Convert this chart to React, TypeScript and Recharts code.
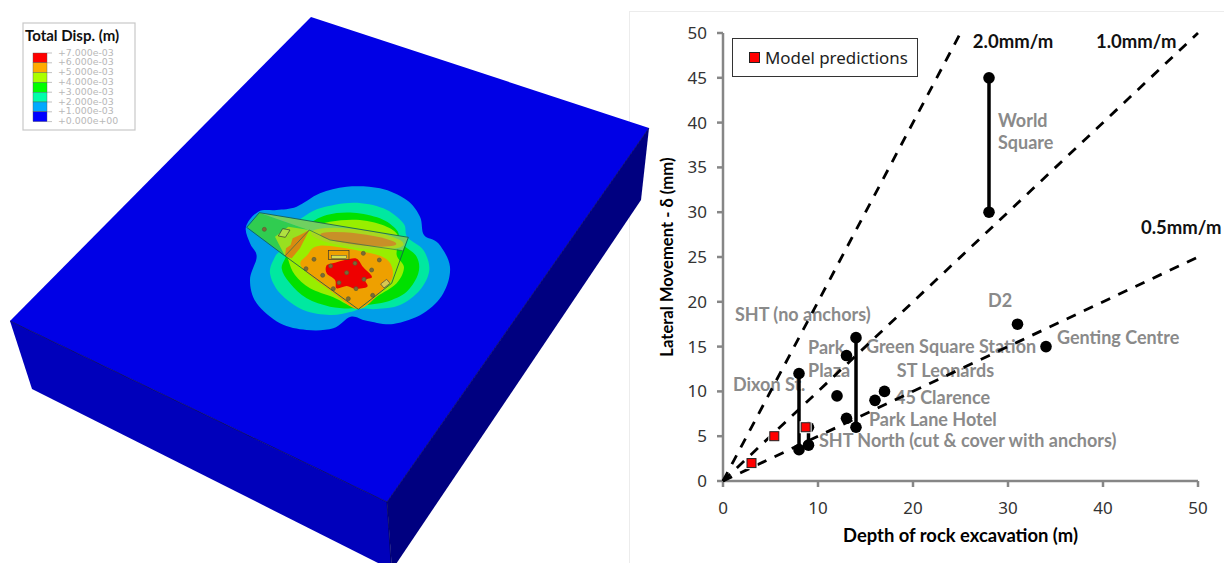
import { Legend, Scatter, ScatterChart, XAxis, YAxis } from "recharts";

// chart values
const xTicks = [0, 10, 20, 30, 40, 50];
const yTicks = [0, 5, 10, 15, 20, 25, 30, 35, 40, 45, 50];
const guide20 = [{ x: 0, y: 0 }, { x: 25, y: 50 }];
const guide10 = [{ x: 0, y: 0 }, { x: 50, y: 50 }];
const guide05 = [{ x: 0, y: 0 }, { x: 50, y: 25 }];
const worldSquare = [{ x: 28, y: 30 }, { x: 28, y: 45 }];
const dixonSt = [{ x: 8, y: 3.5 }, { x: 8, y: 12 }];
const greenSquare = [{ x: 14, y: 6 }, { x: 14, y: 16 }];
const shtNorth = [{ x: 9, y: 4 }, { x: 9, y: 6 }];
const singleSites = [
  { x: 13, y: 14 },
  { x: 13, y: 7 },
  { x: 12, y: 9.5 },
  { x: 16, y: 9 },
  { x: 17, y: 10 },
  { x: 31, y: 17.5 },
  { x: 34, y: 15 },
];
const modelPredictions = [
  { x: 3, y: 2 },
  { x: 5.4, y: 5 },
  { x: 8.7, y: 6 },
];
const siteLabels = [
  { x: 1.26, y: 17.97, text: "SHT (no anchors)" },
  { x: 8.95, y: 14.29, text: "Park" },
  { x: 8.95, y: 11.72, text: "Plaza" },
  { x: 1.05, y: 10.16, text: "Dixon St." },
  { x: 15.05, y: 14.4, text: "Green Square Station" },
  { x: 18.3, y: 11.72, text: "ST Leonards" },
  { x: 18.1, y: 8.71, text: "45 Clarence" },
  { x: 15.37, y: 6.25, text: "Park Lane Hotel" },
  { x: 10.1, y: 3.91, text: "SHT North (cut & cover with anchors)" },
  { x: 27.9, y: 19.53, text: "D2" },
  { x: 35.16, y: 15.4, text: "Genting Centre" },
  { x: 28.95, y: 39.62, text: "World" },
  { x: 28.95, y: 37.17, text: "Square" },
];
const guideLabels = [
  { x: 26.3, y: 48.44, text: "2.0mm/m" },
  { x: 39.26, y: 48.44, text: "1.0mm/m" },
  { x: 44, y: 27.68, text: "0.5mm/m" },
];

// contour legend of the FE picture
const contourColors = ["#ff0000", "#ffaa00", "#aaff00", "#00ff00", "#00ffaa", "#00aaff", "#0000ff"];
const contourTicks = ["+7.000e-03", "+6.000e-03", "+5.000e-03", "+4.000e-03", "+3.000e-03", "+2.000e-03", "+1.000e-03", "+0.000e+00"];

// FE contour outlines, traced by hand
type Pt = [number, number];
const azureBand: Pt[] = [[230, 80], [300, 40], [380, 20], [480, 25], [560, 60], [600, 110], [612, 165], [655, 190], [690, 260], [670, 340], [610, 400], [520, 432], [440, 422], [392, 410], [340, 445], [260, 450], [180, 430], [110, 370], [90, 300], [110, 230], [90, 190], [78, 140], [115, 95], [170, 90]];
const springBand: Pt[] = [[240, 118], [300, 85], [400, 68], [490, 85], [550, 130], [562, 172], [610, 210], [628, 270], [600, 330], [540, 375], [470, 387], [425, 386], [390, 396], [330, 405], [250, 390], [180, 340], [150, 280], [165, 230], [185, 205], [170, 170]];
const greenBand: Pt[] = [[250, 140], [320, 105], [400, 98], [480, 115], [530, 150], [545, 190], [590, 230], [595, 280], [560, 335], [500, 365], [440, 375], [400, 385], [330, 380], [260, 355], [210, 310], [185, 265], [200, 220], [180, 180]];
const limeBand: Pt[] = [[330, 125], [420, 120], [500, 140], [535, 170], [530, 225], [552, 262], [530, 310], [470, 350], [415, 385], [340, 352], [270, 325], [225, 285], [205, 240], [190, 180], [250, 150]];
const orangeFloor: Pt[] = [[262, 225], [300, 197], [420, 213], [500, 238], [518, 290], [480, 338], [415, 387], [340, 338], [245, 262]];
const redCore: Pt[] = [[320, 256], [345, 248], [375, 240], [410, 236], [430, 262], [456, 290], [436, 300], [442, 320], [405, 326], [380, 318], [350, 325], [345, 300], [320, 280]];
const columnDots: Pt[] = [[133, 148], [282, 238], [258, 266], [332, 258], [308, 286], [380, 278], [430, 220], [478, 240], [455, 270], [432, 298], [408, 326], [340, 326], [385, 356], [458, 346], [357, 308], [405, 250]];

function smoothPath(pts: Pt[]) {
  const n = pts.length;
  let d = `M${pts[0][0]},${pts[0][1]}`;
  for (let i = 0; i < n; i++) {
    const [p0, p1, p2, p3] = [pts[(i - 1 + n) % n], pts[i], pts[(i + 1) % n], pts[(i + 2) % n]];
    d += `C${p1[0] + (p2[0] - p0[0]) / 6},${p1[1] + (p2[1] - p0[1]) / 6} ${p2[0] - (p3[0] - p1[0]) / 6},${p2[1] - (p3[1] - p1[1]) / 6} ${p2[0]},${p2[1]}`;
  }
  return d + "Z";
}

function ModelPicture() {
  return (
    <svg width={655} height={563} style={{ position: "absolute", left: 0, top: 0 }}>
      <polygon points="10,321 387,502 392,570 32,389" fill="#0000bb" />
      <polygon points="649,128 387,502 392,570 641,200" fill="#000080" />
      <polygon points="311,17 649,128 387,502 10,321" fill="#0000e6" />
      <polyline points="10,321 387,502 649,128" fill="none" stroke="#00005a" strokeWidth={0.8} />
      <line x1={387} y1={502} x2={391} y2={563} stroke="#00005a" strokeWidth={0.8} />

      <g transform="translate(220,180) scale(0.3333)">
        <path d={smoothPath(azureBand)} fill="#009ee8" />
        <path d={smoothPath(springBand)} fill="#00e8a0" />
        <path d={smoothPath(greenBand)} fill="#00e000" />
        <path d={smoothPath(limeBand)} fill="#98ee00" />
        <polygon points="82,142 118,98 268,150 215,235 195,228" fill="#30cc50" />
        <polygon points="165,170 205,140 268,150 215,235 195,228" fill="#98e020" />
        <polygon points="195,228 198,205 212,195 218,175 240,165 268,150 240,205 215,235" fill="#d88a10" />
        <polygon points="118,98 565,172 548,212 470,195 265,150" fill="#70d060" />
        <ellipse cx={412} cy={176} rx={140} ry={28} transform="rotate(7 412 176)" fill="#a8d820" />
        <ellipse cx={415} cy={178} rx={115} ry={17} transform="rotate(7 415 178)" fill="#c89028" />
        <path d={smoothPath(orangeFloor)} fill="#eea000" />
        <path d={smoothPath(redCore)} fill="#ee0000" />
        <rect x={325} y={212} width={62} height={26} fill="#eea000" stroke="#333" strokeWidth={2} />
        <rect x={335} y={226} width={45} height={10} fill="#d8e050" stroke="#444" strokeWidth={1.5} />
        <polygon points="175,168 188,146 210,150 196,172" fill="#b0e040" stroke="#333" strokeWidth={2} />
        <polygon points="482,312 500,298 510,310 492,324" fill="#d8c850" stroke="#444" strokeWidth={2} />
        {columnDots.map(([x, y]) => (
          <circle key={`${x}-${y}`} cx={x} cy={y} r={6} fill="#7a6a38" stroke="#5c5c30" strokeWidth={2} />
        ))}
        <polyline
          points="80,142 118,98 565,172 515,310 415,388 195,228 80,142"
          fill="none"
          stroke="#145a50"
          strokeWidth={2.5}
        />
        <polyline points="195,228 268,150 330,180 548,212" fill="none" stroke="#2a6a50" strokeWidth={2} />
      </g>

      <rect x={23} y={23} width={112} height={107} fill="#fff" stroke="#c8c8c8" strokeWidth={1.2} />
      <text x={25} y={41} fontFamily="Lato" fontWeight={700} fontSize={15} fill="#111">
        Total Disp. (m)
      </text>
      {contourColors.map((c, i) => (
        <rect key={c} x={33} y={53 + i * 9.8} width={14} height={9.8} fill={c} stroke="#555" strokeWidth={0.4} />
      ))}
      {contourTicks.map((t, i) => (
        <g key={t}>
          <line x1={47} x2={52} y1={53 + i * 9.8} y2={53 + i * 9.8} stroke="#999" strokeWidth={0.6} />
          <text x={58} y={55.5 + i * 9.8} fontFamily="DejaVu Sans" fontSize={9.4} fill="#b8b8b8">
            {t}
          </text>
        </g>
      ))}
    </svg>
  );
}

const SiteLabel = (props: any) => (
  <text x={props.cx} y={props.cy + 1} fontFamily="Lato" fontWeight={700} fontSize={18} fill="#8a8a8a">
    {props.payload.text}
  </text>
);
const GuideLabel = (props: any) => (
  <text x={props.cx} y={props.cy + 1} fontFamily="Lato" fontWeight={700} fontSize={18.5} fill="#111">
    {props.payload.text}
  </text>
);
const Dot = (props: any) => <circle cx={props.cx} cy={props.cy} r={5.8} fill="#000" />;
const NoDot = () => <g />;
const RedSquare = (props: any) => (
  <g>
    <rect x={props.cx - 6} y={props.cy - 6} width={12} height={12} fill="#fff" />
    <rect x={props.cx - 4.5} y={props.cy - 4.5} width={9} height={9} fill="#ff0000" stroke="#222" strokeWidth={1} />
  </g>
);

function PredictionLegend() {
  return (
    <div
      style={{
        width: 186,
        height: 39,
        boxSizing: "border-box",
        border: "1px solid #333",
        background: "#fff",
        display: "flex",
        alignItems: "center",
        paddingLeft: 16,
        fontFamily: "Noto Sans",
        fontSize: 16.9,
        color: "#222",
      }}
    >
      <span style={{ width: 9, height: 9, background: "#ff0000", border: "1px solid #222", marginRight: 5 }} />
      Model predictions
    </div>
  );
}

const dashed = { stroke: "#000", strokeWidth: 2.8, strokeDasharray: "10 9" };
const solid = { stroke: "#000", strokeWidth: 3.5 };
const axisLine = { stroke: "#868686", strokeWidth: 2.5 };
const tickStyle = { fill: "#333", fontSize: 17, fontFamily: "Noto Sans" };
const titleStyle = { fill: "#000", fontSize: 18.4, fontWeight: 700, fontFamily: "Lato" };

export default function App() {
  return (
    <div style={{ position: "absolute", left: 0, top: 0, width: 1224, height: 563, overflow: "hidden", background: "#fff" }}>
      <div style={{ position: "absolute", left: 629, top: 11, width: 600, height: 560, border: "1px solid #ececec" }} />
      <ModelPicture />
      <div style={{ position: "absolute", left: 630, top: 0 }}>
        <ScatterChart width={594} height={563} margin={{ top: 33, right: 26, bottom: 22, left: 33 }}>
          <XAxis
            type="number"
            dataKey="x"
            domain={[0, 50]}
            ticks={xTicks}
            height={60}
            interval={0}
            tick={tickStyle}
            tickSize={6}
            tickMargin={15}
            axisLine={axisLine}
            tickLine={axisLine}
            label={{ value: "Depth of rock excavation (m)", position: "insideBottom", offset: -1, style: titleStyle }}
          />
          <YAxis
            type="number"
            dataKey="y"
            domain={[0, 50]}
            ticks={yTicks}
            width={60}
            interval={0}
            tick={tickStyle}
            tickSize={6}
            tickMargin={10}
            axisLine={axisLine}
            tickLine={axisLine}
            label={{ value: "Lateral Movement - δ (mm)", angle: -90, position: "insideLeft", offset: 0, dx: 4, style: { ...titleStyle, fontSize: 16.6, textAnchor: "middle" } }}
          />
          <Legend
            content={() => <PredictionLegend />}
            layout="vertical"
            align="center"
            verticalAlign="middle"
            wrapperStyle={{ position: "absolute", left: 102, top: 38, width: 186 }}
          />
          <Scatter name="labels" data={siteLabels} shape={SiteLabel} isAnimationActive={false} legendType="none" />
          <Scatter name="guide labels" data={guideLabels} shape={GuideLabel} isAnimationActive={false} legendType="none" />
          <Scatter name="2.0mm/m" data={guide20} line={dashed} shape={NoDot} isAnimationActive={false} legendType="none" />
          <Scatter name="1.0mm/m" data={guide10} line={dashed} shape={NoDot} isAnimationActive={false} legendType="none" />
          <Scatter name="0.5mm/m" data={guide05} line={dashed} shape={NoDot} isAnimationActive={false} legendType="none" />
          <Scatter name="World Square" data={worldSquare} line={solid} shape={Dot} isAnimationActive={false} legendType="none" />
          <Scatter name="Dixon St." data={dixonSt} line={solid} shape={Dot} isAnimationActive={false} legendType="none" />
          <Scatter name="Green Square Station" data={greenSquare} line={solid} shape={Dot} isAnimationActive={false} legendType="none" />
          <Scatter name="SHT North" data={shtNorth} line={solid} shape={Dot} isAnimationActive={false} legendType="none" />
          <Scatter name="sites" data={singleSites} shape={Dot} isAnimationActive={false} legendType="none" />
          <Scatter name="Model predictions" data={modelPredictions} shape={RedSquare} isAnimationActive={false} />
        </ScatterChart>
      </div>
    </div>
  );
}
